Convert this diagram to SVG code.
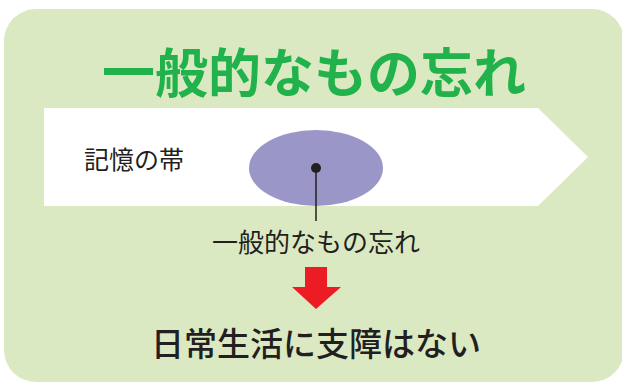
<svg xmlns="http://www.w3.org/2000/svg" width="622" height="382" viewBox="0 0 622 382">
<style>
.jp{font-family:"Noto Sans CJK JP","Noto Sans",sans-serif;fill:#231f20;text-anchor:middle}
</style>
<rect x="0" y="0" width="622" height="382" fill="#ffffff"/>
<g id="panel"><rect x="4" y="9" width="620" height="373" rx="32" fill="#dbe9c3"/></g>
<g id="title"><text class="jp" x="314" y="93" font-size="53" font-weight="bold" style="fill:#22b24c">一般的なもの忘れ</text></g>
<g id="band"><polygon points="44,108 538,108 588,157 538,206 44,206" fill="#ffffff"/>
<text class="jp" x="84" y="169" font-size="25" style="text-anchor:start">記憶の帯</text></g>
<g id="memory"><ellipse cx="316" cy="168" rx="67" ry="38" fill="#9b96c8"/></g>
<g id="connectors">
<line x1="316" y1="168" x2="316" y2="221" stroke="#231f20" stroke-width="1.5"/>
<circle cx="316" cy="168" r="5" fill="#231f20"/>
<polygon points="305,267 327,267 327,287 341,287 316,309 292,287 305,287" fill="#ed1c24"/>
</g>
<g id="label"><text class="jp" x="316" y="252" font-size="26">一般的なもの忘れ</text></g>
<g id="result"><text class="jp" x="316" y="356" font-size="33" font-weight="500">日常生活に支障はない</text></g>
</svg>
